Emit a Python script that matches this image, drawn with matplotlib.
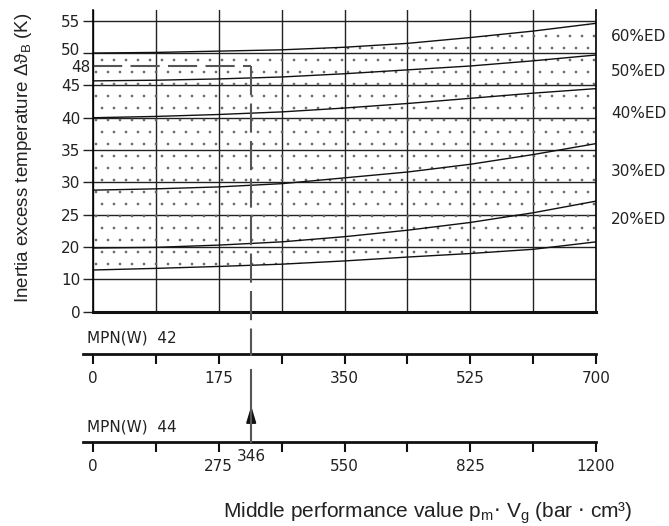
import matplotlib
matplotlib.use("Agg")
import matplotlib.pyplot as plt
import numpy as np
from matplotlib.lines import Line2D
from matplotlib.transforms import ScaledTranslation

W, H = 669, 526
DPI = 72          # hatch tile = 1 inch, so 72 dpi gives the sparse dot raster
S = 100 / 72      # sizes below were tuned in 100-dpi points

# performance value on the MPN(W) 42 scale (bar*cm3)
perf = [0, 87.5, 175, 262.5, 350, 437.5, 525, 612.5, 700]

# band boundary curves, bottom to top (K)
curve_1 = [12.9, 13.4, 14.0, 14.7, 15.7, 16.9, 18.0, 19.3, 20.8]
curve_2 = [19.7, 19.9, 20.3, 20.8, 21.6, 22.6, 23.8, 25.3, 27.1]
curve_3 = [28.8, 29.0, 29.3, 29.8, 30.7, 31.6, 32.8, 34.3, 36.0]
curve_4 = [40.0, 40.2, 40.5, 40.9, 41.5, 42.2, 43.0, 43.8, 44.5]
curve_5 = [45.7, 45.8, 46.0, 46.3, 46.8, 47.4, 48.0, 48.8, 49.7]
curve_6 = [50.0, 50.1, 50.3, 50.5, 50.9, 51.5, 52.4, 53.4, 54.6]
curves = [curve_1, curve_2, curve_3, curve_4, curve_5, curve_6]

y_ticks = [0, 10, 20, 25, 30, 35, 40, 45, 50, 55]
ed_labels = ["60%ED", "50%ED", "40%ED", "30%ED", "20%ED"]

ticks_42 = [0, 175, 350, 525, 700]
ticks_44 = [0, 275, 550, 825, 1200]

read_temp = 48
read_perf = 346

plt.rcParams["hatch.linewidth"] = 0.2

tick_font = dict(family="DejaVu Sans", size=11 * S, color="#222222")
ylab_font = dict(family=["Liberation Sans", "DejaVu Sans"], size=13.5 * S, color="#222222")
xlab_font = dict(family=["Liberation Sans", "DejaVu Sans"], size=15 * S, color="#222222")


def fy(y_top):
    # pixel row from the top -> figure fraction
    return (H - y_top) / H


# y axis is stretched: 0-10-20 get one grid step each, then 5 K per step
y_knots = [-10, 0, 10, 20, 60]
y_pos = [-1, 0, 1, 2, 10]


def y_fwd(v):
    return np.interp(v, y_knots, y_pos)


def y_inv(p):
    return np.interp(p, y_pos, y_knots)


# the 44 scale is not linear either (last step is 375)
x44_knots = [-275, 0, 275, 550, 825, 1200, 1575]
x44_pos = [-1, 0, 1, 2, 3, 4, 5]


def x44_fwd(v):
    return np.interp(v, x44_knots, x44_pos)


def x44_inv(p):
    return np.interp(p, x44_pos, x44_knots)


fig = plt.figure(figsize=(W / DPI, H / DPI), dpi=DPI)

ax = fig.add_axes([93 / W, fy(311.7), 503 / W, 301.7 / H])
ax.set_yscale("function", functions=(y_fwd, y_inv))
ax.set_xlim(0, 700)
ax.set_ylim(0, 56.66)

ax.set_xticks(perf)
ax.set_xticklabels([])
ax.tick_params(axis="x", length=0)
ax.set_yticks(y_ticks)
ax.set_yticklabels([str(t) for t in y_ticks], **tick_font)
ax.tick_params(axis="y", length=7.2 * S, width=1.0 * S, pad=2 * S, color="#222222")
ax.grid(True, color="#222222", lw=1.0 * S)
ax.set_axisbelow(True)
for lbl in ax.get_yticklabels():
    if lbl.get_text() == "50":
        lbl.set_transform(lbl.get_transform()
                          + ScaledTranslation(0, 4.5 / DPI, fig.dpi_scale_trans))

ax.spines["top"].set_visible(False)
ax.spines["left"].set_linewidth(1.2 * S)
ax.spines["right"].set_linewidth(1.2 * S)
ax.spines["bottom"].set_linewidth(2.2 * S)
ax.spines["bottom"].set_color("#111111")

ax.fill_between(perf, curve_1, curve_6, facecolor="none", edgecolor="#666666",
                hatch=".", lw=0)
for c in curves:
    ax.plot(perf, c, color="#111111", lw=1.0 * S)


def scale_axis(y_top, ticks, minor, lim, scale=None):
    a = fig.add_axes([93 / W, fy(y_top), 503 / W, 0.0005])
    if scale is not None:
        a.set_xscale("function", functions=scale)
    a.set_xlim(*lim)
    a.set_yticks([])
    a.patch.set_visible(False)
    for s in ["top", "left", "right"]:
        a.spines[s].set_visible(False)
    a.spines["bottom"].set_linewidth(2.0 * S)
    a.spines["bottom"].set_color("#111111")
    x_left = a.transData.inverted().transform((82.7, 0))[0]
    a.spines["bottom"].set_bounds(x_left, lim[1])
    a.set_xticks(ticks)
    a.set_xticklabels([str(t) for t in ticks], **tick_font)
    a.set_xticks(minor, minor=True)
    a.tick_params(axis="x", which="both", length=7.2 * S, width=1.5 * S,
                  color="#111111", pad=5 * S)
    return a


minor_42 = [(a + b) / 2 for a, b in zip(ticks_42[:-1], ticks_42[1:])]
minor_44 = [(a + b) / 2 for a, b in zip(ticks_44[:-1], ticks_44[1:])]
ax42 = scale_axis(354.3, ticks_42, minor_42, (0, 700))
ax44 = scale_axis(442.3, ticks_44, minor_44, (0, 1200), scale=(x44_fwd, x44_inv))

fig.text(86.7 / W, fy(338), "MPN(W)  42", va="center", **tick_font)
fig.text(86.7 / W, fy(426.7), "MPN(W)  44", va="center", **tick_font)

# read-off line: 346 on the 44 scale -> 48 K
xd = ax44.transData.transform((read_perf, 0))[0]
x_read = ax.transData.inverted().transform((xd, 0))[0]
y48d = ax.transData.transform((0, read_temp))[1]
dash = dict(color="#555555", lw=1.5 * S, dashes=(14, 4))
ax.plot([0, x_read], [read_temp, read_temp], **dash)
fig.add_artist(Line2D([xd / W, xd / W], [y48d / H, fy(356)],
                      transform=fig.transFigure, **dash))
fig.add_artist(Line2D([xd / W, xd / W], [fy(370), fy(442)],
                      transform=fig.transFigure, color="#555555", lw=1.5 * S))
ax44.annotate("", xy=(read_perf, fy(406)), xytext=(read_perf, fy(424)),
              xycoords=("data", "figure fraction"),
              textcoords=("data", "figure fraction"),
              arrowprops=dict(arrowstyle="-|>,head_length=1.0,head_width=0.3",
                              mutation_scale=10 * S, color="#111111", lw=1.3 * S,
                              shrinkA=0, shrinkB=0))
fig.text(xd / W, fy(456.7), str(read_perf), ha="center", va="center", **tick_font)
ax.annotate(str(read_temp), xy=(0, read_temp), xytext=(-2 * S, -1 * S),
            textcoords="offset points", ha="right", va="center",
            annotation_clip=False, **tick_font)

for lbl, yt in zip(ed_labels, [36.7, 71.7, 113, 171.7, 220]):
    fig.text(611 / W, fy(yt), lbl, va="center", **tick_font)

fig.text(24 / W, fy(158), "Inertia excess temperature \u0394\u03d1$_\\mathregular{B}$ (K)",
         rotation=90, ha="center", va="center", **ylab_font)
fig.text(632 / W, fy(513),
         r"Middle performance value p$_\mathregular{m}$$\cdot$ V$_\mathregular{g}$ (bar $\cdot$ cm³)",
         ha="right", va="center", **xlab_font)

fig.savefig("out.png", dpi=DPI)
